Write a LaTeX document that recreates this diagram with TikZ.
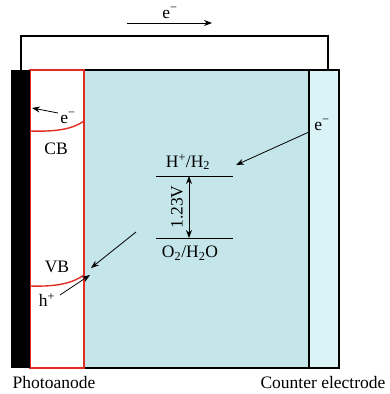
\documentclass[tikz,border=0pt]{standalone}
\usepackage{fontspec}
\setmainfont{Liberation Serif}
\usetikzlibrary{arrows.meta,positioning}
\definecolor{electrolyte}{RGB}{196,230,234}
\definecolor{counterfill}{RGB}{218,243,247}
\definecolor{bandred}{RGB}{226,45,36}

\begin{document}
\begin{tikzpicture}[x=1pt,y=-1pt,font=\fontsize{17.5}{20}\selectfont,
    flow/.style={-{Stealth[length=8pt,width=6pt]},line width=0.8pt},
    band/.style={bandred,line width=1.4pt},
    level/.style={line width=1pt}]
  \useasboundingbox (0,0) rectangle (390,394);
  % outer wire
  \draw[line width=1.2pt] (21,70) |- (328,36) -- (328,70);
  % cell
  \filldraw[fill=electrolyte,draw=black,line width=1.2pt] (84,70) rectangle (309,368);
  \filldraw[fill=counterfill,draw=black,line width=1.2pt] (309,70) rectangle (339,368);
  \filldraw[band,fill=white] (30,70) rectangle (84,368);
  \fill (11,70) rectangle (30,368);
  % band bending
  \draw[band] (30,131) .. controls (60,132) and (74,128) .. (84,121);
  \draw[band] (30,286) .. controls (60,287) and (74,282) .. (84,275);

  % labels
  \node (eTop) at (170,13) {e\textsuperscript{−}};
  \node (eCB) at (68,118) {e\textsuperscript{−}};
  \node (cb) at (56,149) {CB};
  \node (vb) at (57,267) {VB};
  \node (hole) at (47,300) {h\textsuperscript{+}};
  \node (eCE) at (322,125) {e\textsuperscript{−}};
  \node (hRedox) at (188,162) {H\textsuperscript{+}/H\textsubscript{2}};
  \node (oRedox) at (190,253) {O\textsubscript{2}/H\textsubscript{2}O};
  \node[rotate=90] (volt) at (177,207) {1.23V};
  \node (anode) at (54,383) {Photoanode};
  \node (counter) at (323,383) {Counter electrode};

  % arrow ends
  \coordinate (topL) at (127,23);
  \coordinate (topR) at (212,23);
  \coordinate (cbTail) at (58,113);
  \coordinate (cbTip) at (32,108);
  \coordinate (ceTail) at (309,132);
  \coordinate (ceTip) at (236,165);
  \coordinate (vbTail) at (136,232);
  \coordinate (vbTip) at (91,268);
  \coordinate (holeTail) at (60,295);
  \coordinate (holeTip) at (90,275);
  \coordinate (hL) at (156,176);
  \coordinate (hR) at (233,176);
  \coordinate (oL) at (156,238);
  \coordinate (oR) at (233,238);
  \coordinate (hMid) at (189,176);
  \coordinate (oMid) at (189,238);

  % arrows
  \draw[flow] (topL) -- (topR);
  \draw[flow] (cbTail) -- (cbTip);
  \draw[flow] (ceTail) -- (ceTip);
  \draw[flow] (vbTail) -- (vbTip);
  \draw[flow] (holeTail) -- (holeTip);
  \draw[level] (hL) -- (hR);
  \draw[level] (oL) -- (oR);
  \draw[flow,{Stealth[length=8pt,width=6pt]}-{Stealth[length=8pt,width=6pt]}] (hMid) -- (oMid);
\end{tikzpicture}
\end{document}
